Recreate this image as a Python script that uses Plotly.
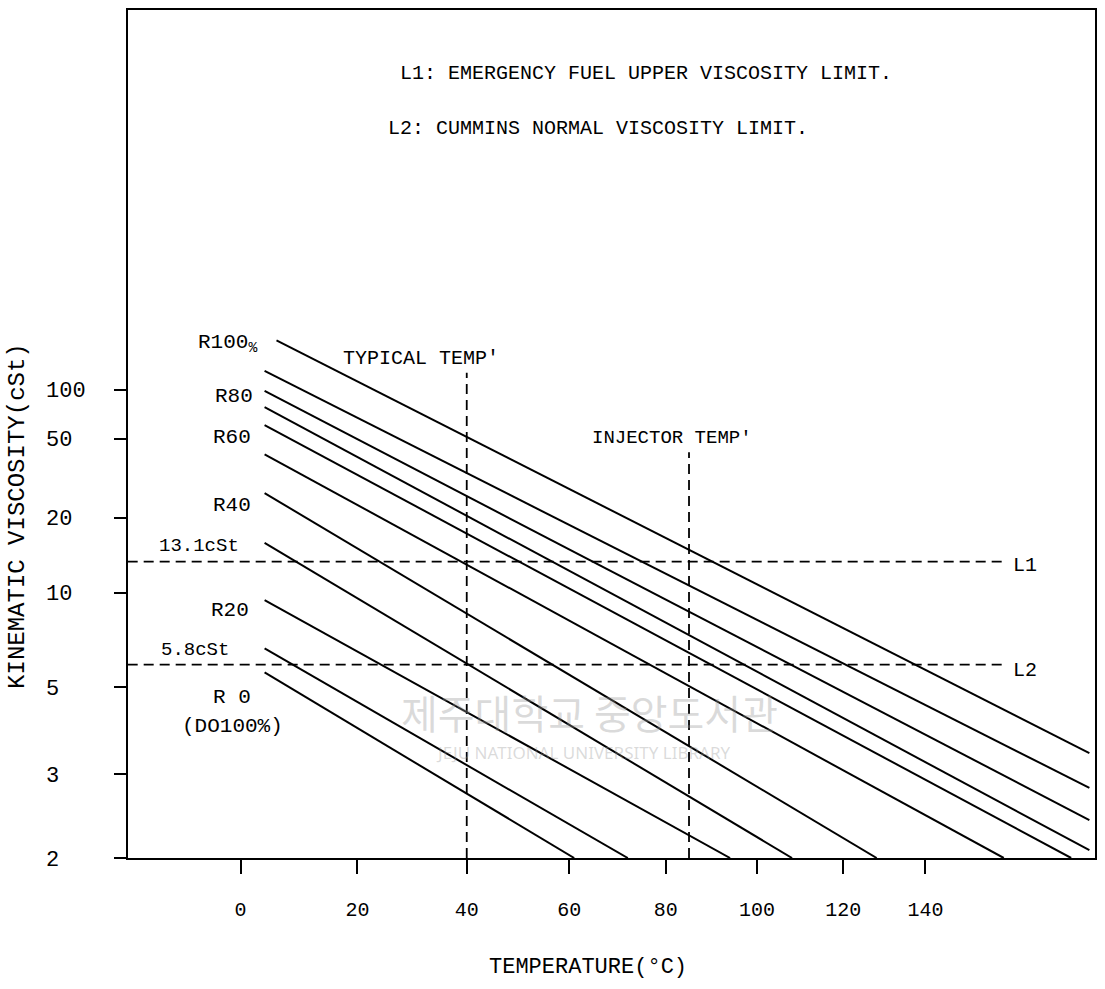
import math
import plotly.graph_objects as go

# ---------------- data ----------------
blend_labels = ["R100%", "R90", "R80", "R70", "R60", "R50", "R40", "R30", "R20", "R10", "R0"]
start_temp_c = [6, 4, 4, 4, 4, 4, 4, 4, 4, 4, 4]
start_visc_cst = [225, 134, 98, 77, 60, 41, 26, 15.6, 9.4, 6.5, 5.5]
end_temp_c = [183, 183, 183, 183, 178, 160, 128, 108, 94, 72, 61]
end_visc_cst = [3.36, 2.79, 2.38, 2.07, 2.0, 2.0, 2.0, 2.0, 2.0, 2.0, 2.0]

limit_names = ["L1", "L2"]
limit_visc_cst = [13.1, 5.8]
limit_temp_from_c = [-18, -18]
limit_temp_to_c = [161, 161]

temp_marker_names = ["TYPICAL TEMP'", "INJECTOR TEMP'"]
temp_marker_c = [40, 85]
temp_marker_top_cst = [130, 42]

x_tick_c = [0, 20, 40, 60, 80, 100, 120, 140]
y_tick_cst = [2, 3, 5, 10, 20, 50, 100]

# ---------------- axis transforms (ASTM-style chart) ----------------
def kelvin(c):
    return c + 273.15          # x axis: log of absolute temperature


def astm(v):
    return math.log10(v + 0.7)  # y axis: log of log(v + 0.7)


FONT = "Liberation Mono"
fig = go.Figure()

for i, name in enumerate(blend_labels):
    fig.add_trace(go.Scatter(
        x=[kelvin(start_temp_c[i]), kelvin(end_temp_c[i])],
        y=[astm(start_visc_cst[i]), astm(end_visc_cst[i])],
        mode="lines", name=name,
        line=dict(color="black", width=2),
        hoverinfo="name",
    ))

for i, name in enumerate(limit_names):
    fig.add_trace(go.Scatter(
        x=[kelvin(limit_temp_from_c[i]), kelvin(limit_temp_to_c[i])],
        y=[astm(limit_visc_cst[i]), astm(limit_visc_cst[i])],
        mode="lines", name=name,
        line=dict(color="black", width=1.8, dash="10px,6px"),
    ))

for i, name in enumerate(temp_marker_names):
    fig.add_trace(go.Scatter(
        x=[kelvin(temp_marker_c[i]), kelvin(temp_marker_c[i])],
        y=[astm(2.0), astm(temp_marker_top_cst[i])],
        mode="lines", name=name,
        line=dict(color="black", width=1.8, dash="10px,6px"),
    ))

W, H = 1105, 989
ML, MR, MT, MB = 128, 9, 8, 131
PW, PH = W - ML - MR, H - MT - MB


def px(x):
    return (x - ML) / PW


def py(y):
    return (H - MB - y) / PH


def note(text, x, y, size=18, xanchor="left", angle=0, color="black", family=FONT):
    fig.add_annotation(text=text, xref="paper", yref="paper", x=px(x), y=py(y),
                       xanchor=xanchor, yanchor="middle", showarrow=False,
                       textangle=angle, font=dict(family=family, size=size, color=color))


# watermark
note("제주대학교 중앙도서관", 590, 712, size=40, xanchor="center",
     color="rgba(150,150,150,0.35)", family="Noto Sans CJK KR")
note("JEJU NATIONAL UNIVERSITY LIBRARY", 583, 752, size=17, xanchor="center",
     color="rgba(150,150,150,0.35)", family="Noto Sans")

note("L1: EMERGENCY FUEL UPPER VISCOSITY LIMIT.", 398, 72, size=20)
note("L2: CUMMINS NORMAL VISCOSITY LIMIT.", 386, 127, size=20)
note("TYPICAL TEMP'", 341, 357, size=20)
note("INJECTOR TEMP'", 590, 437, size=19)
note("R100<sub>%</sub>", 196, 342, size=21)
note("R80", 213, 395, size=21)
note("R60", 211, 437, size=21)
note("R40", 211, 505, size=21)
note("13.1cSt", 157, 545, size=19)
note("R20", 209, 610, size=21)
note("5.8cSt", 159, 650, size=19)
note("R 0", 211, 697, size=21)
note("(DO100%)", 180, 726, size=21)
note("L1", 1012, 565, size=20)
note("L2", 1012, 670, size=20)
note("KINEMATIC VISCOSITY(cSt)", 18, 515, size=24, xanchor="center", angle=-90)
note("TEMPERATURE(°C)", 588, 968, size=22, xanchor="center")

fig.update_xaxes(
    type="log",
    range=[math.log10(kelvin(-17.95)), math.log10(kelvin(184.55))],
    tickvals=[kelvin(t) for t in x_tick_c],
    ticktext=[str(t) for t in x_tick_c],
    ticks="outside", ticklen=14, tickwidth=2, tickcolor="black",
    ticklabelstandoff=18,
    tickfont=dict(family=FONT, size=20, color="black"),
    showline=True, linewidth=2, linecolor="black", mirror=True,
    showgrid=False, zeroline=False,
)
fig.update_yaxes(
    type="log",
    range=[math.log10(astm(2.0)), 0.842],
    tickvals=[astm(v) for v in y_tick_cst],
    ticktext=[f"{v:<3}".replace(" ", "\u00a0") for v in y_tick_cst],
    ticks="outside", ticklen=12, tickwidth=2, tickcolor="black",
    ticklabelstandoff=24,
    tickfont=dict(family=FONT, size=22, color="black"),
    showline=True, linewidth=2, linecolor="black", mirror=True,
    showgrid=False, zeroline=False,
)
fig.update_layout(
    width=W, height=H,
    margin=dict(l=ML, r=MR, t=MT, b=MB),
    paper_bgcolor="white", plot_bgcolor="white",
    showlegend=False,
)
fig.write_html("out.html")
